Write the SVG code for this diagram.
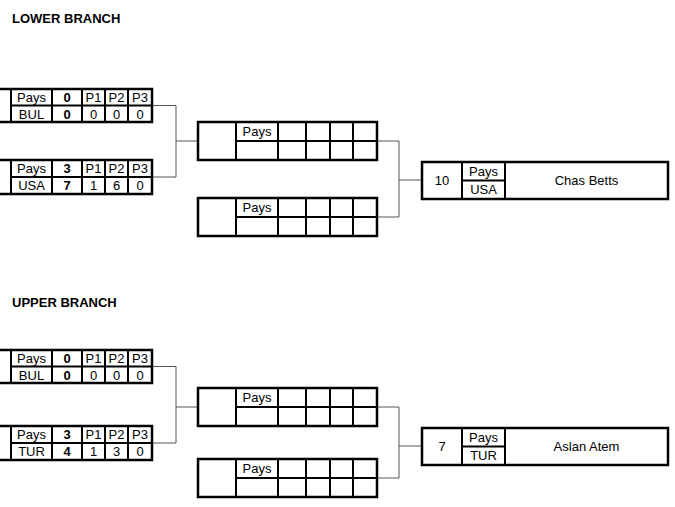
<svg xmlns="http://www.w3.org/2000/svg" width="675" height="507" viewBox="0 0 675 507">
<style>
.bg{fill:#ffffff}
.box{fill:#ffffff;stroke:#000;stroke-width:2.5}
.in{stroke:#000;stroke-width:2;fill:none}
.conn{stroke:#555;stroke-width:1;fill:none}
text{font-family:"Liberation Sans",Arial,sans-serif;font-size:13px;fill:#000;text-anchor:middle}
.b{font-weight:bold}
.title{font-weight:bold;text-anchor:start}
</style>
<rect class="bg" x="0" y="0" width="675" height="507"/>
<text class="title" x="12" y="23">LOWER BRANCH</text>
<text class="title" x="12" y="307">UPPER BRANCH</text>

<g id="connectors">
<path class="conn" d="M152 105.5H176V177H152M176 141H198"/>
<path class="conn" d="M377 141H399V217H377M399 180H422"/>
<path class="conn" d="M152 366.5H176V443H152M176 407H198"/>
<path class="conn" d="M377 407H399V478H377M399 446H422"/>
</g>

<g id="lower-r1-m1">
<rect class="box" x="-27" y="89" width="179" height="33"/>
<path class="in" d="M11 89V122M52 89V122M82 89V122M105 89V122M128 89V122M11 105.5H152"/>
<text x="31.5" y="102">Pays</text><text class="b" x="67" y="102">0</text><text x="93.5" y="102">P1</text><text x="116.5" y="102">P2</text><text x="140" y="102">P3</text>
<text x="31.5" y="118.5">BUL</text><text class="b" x="67" y="118.5">0</text><text x="93.5" y="118.5">0</text><text x="116.5" y="118.5">0</text><text x="140" y="118.5">0</text>
</g>

<g id="lower-r1-m2">
<rect class="box" x="-27" y="160" width="179" height="34"/>
<path class="in" d="M11 160V194M52 160V194M82 160V194M105 160V194M128 160V194M11 177H152"/>
<text x="31.5" y="173">Pays</text><text class="b" x="67" y="173">3</text><text x="93.5" y="173">P1</text><text x="116.5" y="173">P2</text><text x="140" y="173">P3</text>
<text x="31.5" y="190">USA</text><text class="b" x="67" y="190">7</text><text x="93.5" y="190">1</text><text x="116.5" y="190">6</text><text x="140" y="190">0</text>
</g>

<g id="lower-r2-m1">
<rect class="box" x="198" y="122" width="179" height="38"/>
<path class="in" d="M236 122V160M278 122V160M306 122V160M330 122V160M353 122V160M236 141H377"/>
<text x="257" y="136">Pays</text>
</g>

<g id="lower-r2-m2">
<rect class="box" x="198" y="198" width="179" height="38"/>
<path class="in" d="M236 198V236M278 198V236M306 198V236M330 198V236M353 198V236M236 217H377"/>
<text x="257" y="212">Pays</text>
</g>

<g id="lower-final">
<rect class="box" x="422" y="162" width="246" height="37"/>
<path class="in" d="M462 162V199M505 162V199M462 180.5H505"/>
<text x="442" y="185">10</text>
<text x="483.5" y="175.5">Pays</text>
<text x="483.5" y="194">USA</text>
<text x="586.5" y="185">Chas Betts</text>
</g>

<g id="upper-r1-m1">
<rect class="box" x="-27" y="350" width="179" height="33"/>
<path class="in" d="M11 350V383M52 350V383M82 350V383M105 350V383M128 350V383M11 366.5H152"/>
<text x="31.5" y="363">Pays</text><text class="b" x="67" y="363">0</text><text x="93.5" y="363">P1</text><text x="116.5" y="363">P2</text><text x="140" y="363">P3</text>
<text x="31.5" y="379.5">BUL</text><text class="b" x="67" y="379.5">0</text><text x="93.5" y="379.5">0</text><text x="116.5" y="379.5">0</text><text x="140" y="379.5">0</text>
</g>

<g id="upper-r1-m2">
<rect class="box" x="-27" y="426" width="179" height="34"/>
<path class="in" d="M11 426V460M52 426V460M82 426V460M105 426V460M128 426V460M11 443H152"/>
<text x="31.5" y="439">Pays</text><text class="b" x="67" y="439">3</text><text x="93.5" y="439">P1</text><text x="116.5" y="439">P2</text><text x="140" y="439">P3</text>
<text x="31.5" y="456">TUR</text><text class="b" x="67" y="456">4</text><text x="93.5" y="456">1</text><text x="116.5" y="456">3</text><text x="140" y="456">0</text>
</g>

<g id="upper-r2-m1">
<rect class="box" x="198" y="388" width="179" height="38"/>
<path class="in" d="M236 388V426M278 388V426M306 388V426M330 388V426M353 388V426M236 407H377"/>
<text x="257" y="402">Pays</text>
</g>

<g id="upper-r2-m2">
<rect class="box" x="198" y="459" width="179" height="38"/>
<path class="in" d="M236 459V497M278 459V497M306 459V497M330 459V497M353 459V497M236 478H377"/>
<text x="257" y="473">Pays</text>
</g>

<g id="upper-final">
<rect class="box" x="422" y="428" width="246" height="37"/>
<path class="in" d="M462 428V465M505 428V465M462 446.5H505"/>
<text x="442" y="451">7</text>
<text x="483.5" y="441.5">Pays</text>
<text x="483.5" y="460">TUR</text>
<text x="586.5" y="451">Aslan Atem</text>
</g>
</svg>
